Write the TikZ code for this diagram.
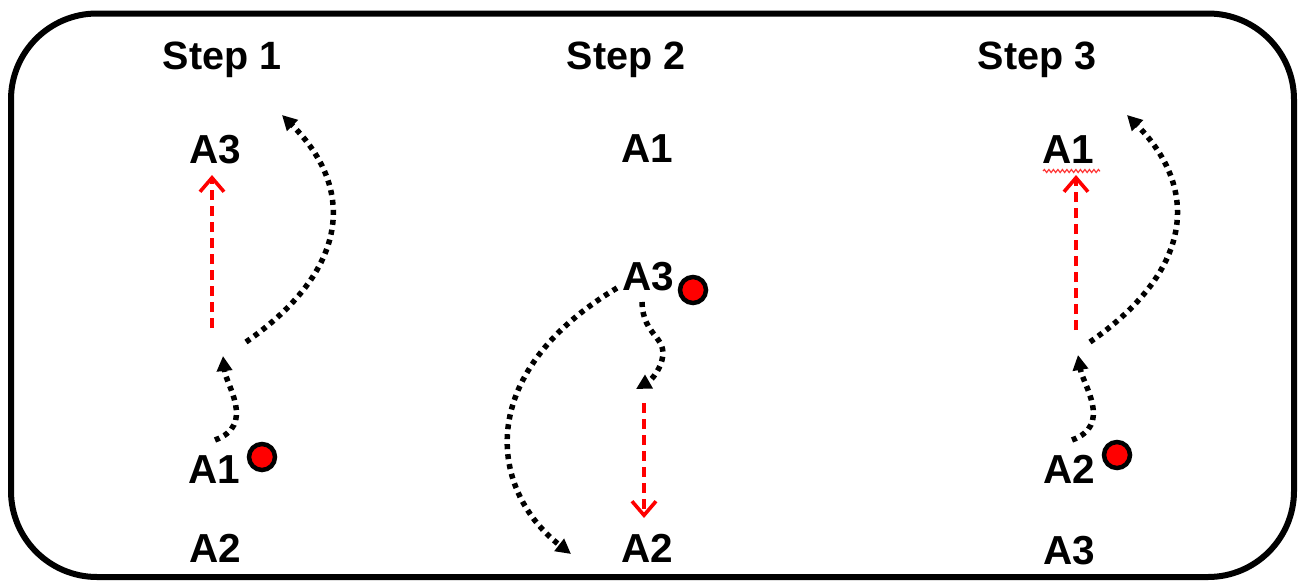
\documentclass[tikz,border=0pt]{standalone}
\usepackage{fontspec}
\setmainfont{Liberation Sans}
\usetikzlibrary{arrows.meta,decorations.pathmorphing}
\begin{document}
\begin{tikzpicture}[x=1pt,y=-1pt,
  title/.style={font=\fontsize{39.5}{46}\selectfont\bfseries, anchor=base, inner sep=0pt},
  lab/.style={font=\fontsize{40.5}{46}\selectfont\bfseries, anchor=base, inner sep=0pt},
  reddot/.style={circle, fill=red, draw=black, line width=4.5pt, minimum size=26pt, inner sep=0pt},
  move/.style={draw=black, line width=5.5pt, dash pattern=on 5pt off 5pt, -{Triangle[length=15pt,width=15pt]}},
  swap/.style={draw=red, line width=3.6pt, dash pattern=on 10pt off 6pt, -{Straight Barb[length=14pt,width=24pt]}},
  frame/.style={draw=black, line width=6pt, rounded corners=86pt}
]
\useasboundingbox (0,0) rectangle (1299,581);
\draw[frame] (11,13.5) rectangle (1294,577);

% titles
\node[title] (t1) at (222,69) {Step 1};
\node[title] (t2) at (626,69) {Step 2};
\node[title] (t3) at (1037,69) {Step 3};

% step 1
\node[lab] (s1a3) at (215,163) {A3};
\node[lab] (s1a1) at (214,483) {A1};
\node[lab] (s1a2) at (215,562) {A2};
\node[reddot] (s1dot) at (262,457) {};
\coordinate (s1r0) at (212,328);
\coordinate (s1r1) at (212,175);
\draw[swap] (s1r0) -- (s1r1);
\coordinate (s1m0) at (215,440);
\coordinate (s1m1) at (223,356);
\draw[move] (s1m0) .. controls (256,425) and (226,385) .. (s1m1);
\coordinate (s1n0) at (246,342);
\coordinate (s1n1) at (282,115);
\draw[move] (s1n0) .. controls (348,271) and (357,190) .. (s1n1);

% step 2
\node[lab] (s2a1) at (647,162) {A1};
\node[lab] (s2a3) at (648,290) {A3};
\node[lab] (s2a2) at (647,562) {A2};
\node[reddot] (s2dot) at (693,290) {};
\coordinate (s2r0) at (644,403);
\coordinate (s2r1) at (644,518);
\draw[swap] (s2r0) -- (s2r1);
\coordinate (s2m0) at (642,302);
\coordinate (s2m1) at (636,389);
\draw[move] (s2m0) .. controls (643,337) and (668,336) .. (662,360) .. controls (659,372) and (650,381) .. (s2m1);
\coordinate (s2n0) at (617,288);
\coordinate (s2n1) at (571,554);
\draw[move] (s2n0) .. controls (472,375) and (490,491) .. (s2n1);

% step 3
\node[lab] (s3a1) at (1068,163) {A1};
\node[lab] (s3a2) at (1069,483) {A2};
\node[lab] (s3a3) at (1069,564) {A3};
\node[reddot] (s3dot) at (1117,455) {};
\coordinate (s3q0) at (1043,171);
\coordinate (s3q1) at (1100,171);
\draw[red!80, line width=1.2pt, decorate, decoration={snake, segment length=4.5pt, amplitude=1.5pt}] (s3q0) -- (s3q1);
\coordinate (s3r0) at (1076,330);
\coordinate (s3r1) at (1076,175);
\draw[swap] (s3r0) -- (s3r1);
\coordinate (s3m0) at (1072,440);
\coordinate (s3m1) at (1078,355);
\draw[move] (s3m0) .. controls (1113,425) and (1083,385) .. (s3m1);
\coordinate (s3n0) at (1090,342);
\coordinate (s3n1) at (1127,115);
\draw[move] (s3n0) .. controls (1192,271) and (1201,190) .. (s3n1);
\end{tikzpicture}
\end{document}
